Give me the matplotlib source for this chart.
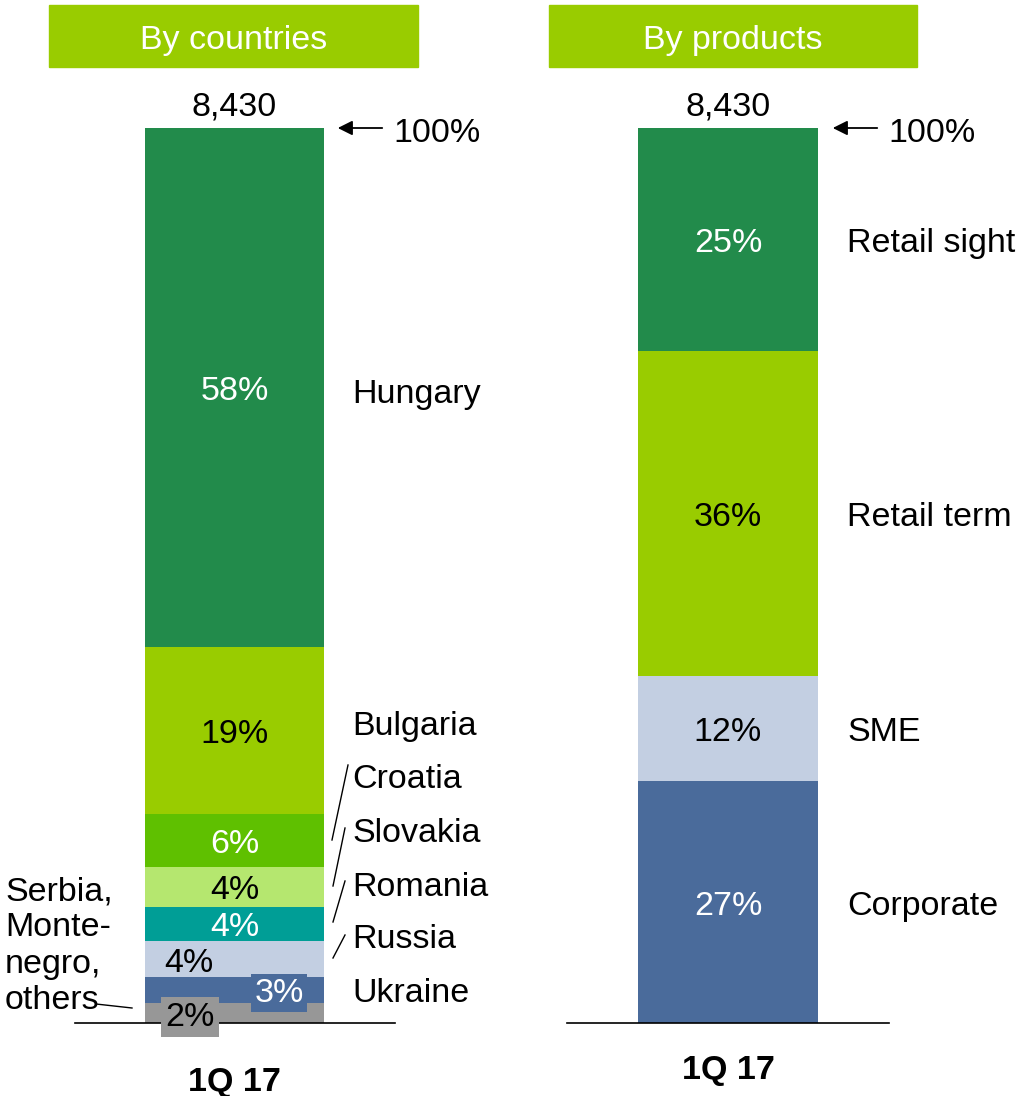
import numpy as np
import matplotlib.pyplot as plt

plt.rcParams['font.family'] = ['Liberation Sans', 'DejaVu Sans']

# datos
paises = ["Others", "Ukraine", "Russia", "Romania", "Slovakia", "Croatia", "Bulgaria", "Hungary"]
paises_val = [2.2, 2.9, 4.1, 3.8, 4.4, 6.0, 18.6, 58.0]
paises_txt = ["2%", "3%", "4%", "4%", "4%", "6%", "19%", "58%"]

productos = ["Corporate", "SME", "Retail term", "Retail sight"]
productos_val = [27.0, 11.8, 36.3, 24.9]
productos_txt = ["27%", "12%", "36%", "25%"]

total = "8,430"
periodo = "1Q 17"

col_paises = ["#979797", "#4a6b9b", "#c3cfe2", "#009e96", "#b5e76f", "#5fc000", "#99cc00", "#228b4b"]
txt_paises = ["black", "white", "black", "white", "black", "white", "black", "white"]
col_prod = ["#4a6b9b", "#c3cfe2", "#99cc00", "#228b4b"]
txt_prod = ["white", "black", "black", "white"]

# escala: pixel y -> porcentaje
px = 8.95
def py(y):
    return (1023 - y) / px

# corrección vertical del texto (va="center" queda un poco alto)
dt = 4 / px
def pt(y):
    return py(y) - dt

fig = plt.figure(figsize=(10.22, 10.96), dpi=100)
ax = fig.add_axes([0, 0, 1, 1])
ax.set_xlim(0, 1022)
ax.set_ylim(py(1096), py(0))
ax.axis("off")

fs = 24.5

# ---------------- barra países ----------------
xc1, w1 = 234.5, 179
base = 0
centros = []
for v, c in zip(paises_val, col_paises):
    ax.bar(xc1, v, width=w1, bottom=base, color=c, zorder=2)
    centros.append(base + v / 2)
    base += v

for i, (t, c) in enumerate(zip(paises_txt, txt_paises)):
    if paises[i] == "Others":
        ax.text(190, pt(1013), t, ha="center", va="center", fontsize=fs, color=c, zorder=4,
                bbox=dict(boxstyle="square,pad=0.12", fc=col_paises[i], ec="none"))
    elif paises[i] == "Ukraine":
        ax.text(279, pt(989), t, ha="center", va="center", fontsize=fs, color=c, zorder=4,
                bbox=dict(boxstyle="square,pad=0.1", fc=col_paises[i], ec="none"))
    elif paises[i] == "Russia":
        ax.text(189, pt(960), t, ha="center", va="center", fontsize=fs, color=c, zorder=4)
    else:
        ax.text(xc1, centros[i] - dt, t, ha="center", va="center", fontsize=fs, color=c, zorder=4)

# etiquetas de países
etq_y = {"Hungary": 390, "Bulgaria": 723, "Croatia": 776, "Slovakia": 829,
         "Romania": 883, "Russia": 936, "Ukraine": 989}
for nombre, y in etq_y.items():
    ax.text(352, pt(y), nombre, ha="left", va="center", fontsize=fs)

# líneas guía
guias = [((332, 840), (348, 765)), ((333, 886), (345, 828)),
         ((333, 922), (345, 881)), ((333, 958), (345, 935)),
         ((96, 1004), (132, 1008))]
for (x0, y0), (x1, y1) in guias:
    ax.plot([x0, x1], [py(y0), py(y1)], color="black", lw=1, zorder=3)

ax.text(5, pt(942), "Serbia,\nMonte-\nnegro,\nothers", ha="left", va="center",
        fontsize=fs, linespacing=1.22)

ax.plot([75, 395], [0, 0], color="black", lw=1.2, zorder=3)

# ---------------- barra productos ----------------
xc2, w2 = 728, 180
base = 0
for v, c, t, tc, nombre in zip(productos_val, col_prod, productos_txt, txt_prod, productos):
    ax.bar(xc2, v, width=w2, bottom=base, color=c, zorder=2)
    ax.text(xc2, base + v / 2 - dt, t, ha="center", va="center", fontsize=fs, color=tc, zorder=4)
    ax.text(847, base + v / 2 - dt, nombre, ha="left", va="center", fontsize=fs)
    base += v

ax.plot([567, 889], [0, 0], color="black", lw=1.2, zorder=3)

# ---------------- totales y flechas ----------------
for xc, xa in [(xc1, 335), (xc2, 830)]:
    ax.text(xc, pt(103), total, ha="center", va="center", fontsize=fs)
    ax.annotate("", xy=(xa, 100), xytext=(xa + 50, 100),
                arrowprops=dict(arrowstyle="-|>", color="black", lw=1.3, mutation_scale=22))
    ax.text(xa + 58, pt(130), "100%", ha="left", va="center", fontsize=fs)

ax.text(xc1, pt(1078), periodo, ha="center", va="center", fontsize=fs, fontweight="bold")
ax.text(xc2, pt(1066), periodo, ha="center", va="center", fontsize=fs, fontweight="bold")

# ---------------- encabezados ----------------
for x0, x1, titulo in [(49, 418, "By countries"), (549, 917, "By products")]:
    ax.add_patch(plt.Rectangle((x0, py(67)), x1 - x0, py(5) - py(67), color="#99cc00", zorder=2))
    ax.text((x0 + x1) / 2, pt(37), titulo, ha="center", va="center", fontsize=fs,
            color="white", zorder=3)

fig.savefig("out.png", dpi=100)
